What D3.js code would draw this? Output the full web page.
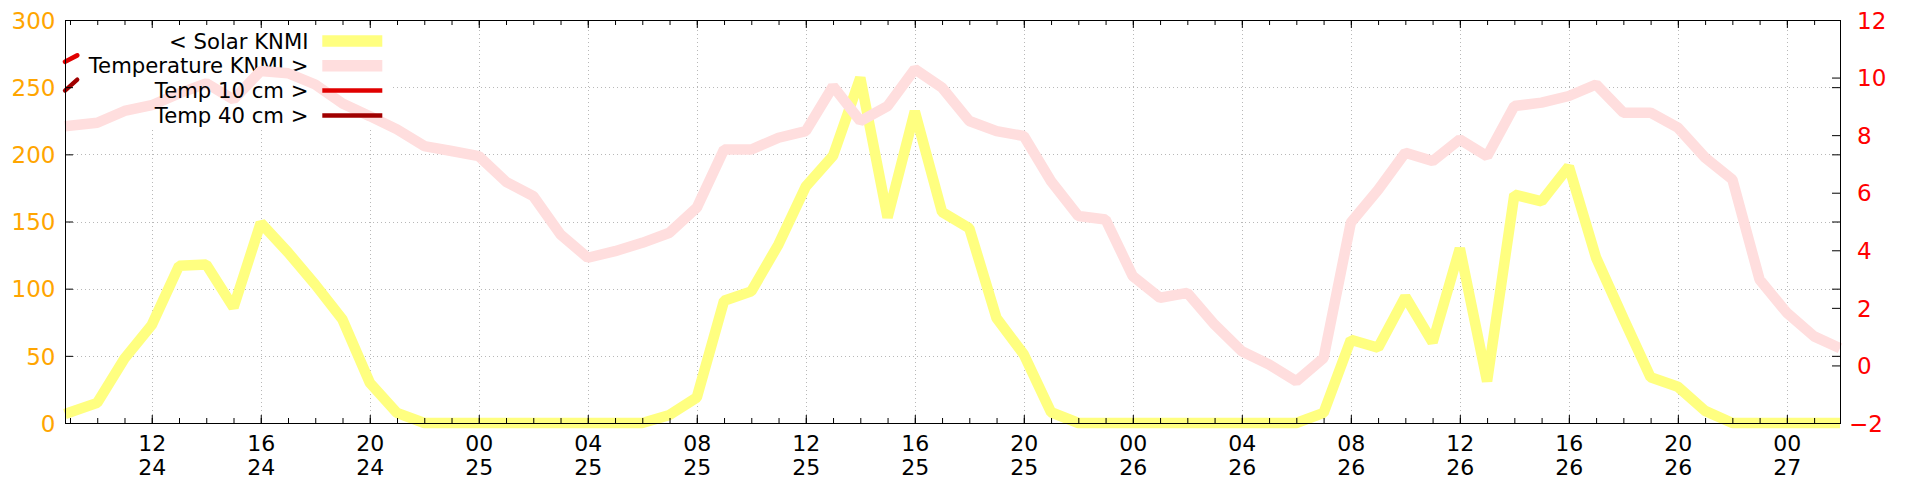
<!DOCTYPE html>
<html>
<head>
<meta charset="utf-8">
<script src="https://cdn.jsdelivr.net/npm/d3@7"></script>
<style>
  html, body { margin: 0; padding: 0; background: #fff; }
  svg { display: block; }
  text { font-family: "DejaVu Sans", sans-serif; }
</style>
</head>
<body>
<svg id="chart" width="1920" height="480"></svg>
<script>
// ---------- data ----------
const times = [
  "24 08:49","24 10:00","24 11:00","24 12:00","24 13:00","24 14:00","24 15:00","24 16:00",
  "24 17:00","24 18:00","24 19:00","24 20:00","24 21:00","24 22:00","24 23:00",
  "25 00:00","25 01:00","25 02:00","25 03:00","25 04:00","25 05:00","25 06:00","25 07:00",
  "25 08:00","25 09:00","25 10:00","25 11:00","25 12:00","25 13:00","25 14:00","25 15:00",
  "25 16:00","25 17:00","25 18:00","25 19:00","25 20:00","25 21:00","25 22:00","25 23:00",
  "26 00:00","26 01:00","26 02:00","26 03:00","26 04:00","26 05:00","26 06:00","26 07:00",
  "26 08:00","26 09:00","26 10:00","26 11:00","26 12:00","26 13:00","26 14:00","26 15:00",
  "26 16:00","26 17:00","26 18:00","26 19:00","26 20:00","26 21:00","26 22:00","26 23:00",
  "27 00:00","27 01:00","27 01:57"
];
const solarKNMI = [
  6.7, 15, 48, 73, 117, 118, 86, 149, 127, 103, 77, 30, 7.5, 0, 0,
  0, 0, 0, 0, 0, 0, 0, 6, 19, 91, 98, 133, 176, 199, 257, 153, 232, 157, 145, 78, 51, 8, 0, 0,
  0, 0, 0, 0, 0, 0, 0, 7.5, 62, 56, 94, 60, 130, 31, 170, 165, 191, 123, 78, 34, 27, 9, 0, 0,
  0, 0, 0
];
const temperatureKNMI = [
  8.31, 8.43, 8.84, 9.04, 9.45, 9.8, 9.24, 10.23, 10.15, 9.76, 9.1, 8.66, 8.2, 7.62, 7.45,
  7.27, 6.38, 5.88, 4.55, 3.74, 3.97, 4.26, 4.61, 5.48, 7.5, 7.5, 7.91, 8.14, 9.7, 8.49, 9.01,
  10.29, 9.65, 8.49, 8.14, 7.97, 6.40, 5.19, 5.07,
  3.10, 2.35, 2.52, 1.42, 0.49, 0.03, -0.55, 0.26, 4.96, 6.1, 7.39, 7.10, 7.85, 7.27, 9.01, 9.13,
  9.36, 9.76, 8.78, 8.78, 8.26, 7.22, 6.46, 2.98,
  1.83, 1.01, 0.6
];
const temp10Times = ["24 08:49", "24 09:16"];
const temp10cm = [10.55, 10.77];
const temp40Times = ["24 08:49", "24 09:16"];
const temp40cm = [9.55, 9.93];

const leftTicks = [0, 50, 100, 150, 200, 250, 300];
const rightTicks = [-2, 0, 2, 4, 6, 8, 10, 12];
const legendLabels = ["< Solar KNMI", "Temperature KNMI >", "Temp 10 cm >", "Temp 40 cm >"];
const seriesColors = ["#ffff80", "#ffdede", "#e00000", "#a00000"];

// ---------- setup ----------
const parse = d3.utcParse("%d %H:%M");
const svg = d3.select("#chart");
const L = 65, R = 1840, T = 20, B = 423;

const allTimes = times.map(parse);
const x = d3.scaleUtc().domain(d3.extent(allTimes)).range([L, R]);
const yL = d3.scaleLinear().domain([0, 300]).range([B, T]);
const yR = d3.scaleLinear().domain([-2, 12]).range([B, T]);

const solarData = times.map((t, i) => ({ t: parse(t), v: solarKNMI[i] }));
const tempData = times.map((t, i) => ({ t: parse(t), v: temperatureKNMI[i] }));
const t10Data = temp10Times.map((t, i) => ({ t: parse(t), v: temp10cm[i] }));
const t40Data = temp40Times.map((t, i) => ({ t: parse(t), v: temp40cm[i] }));

// ---------- grid ----------
const majorX = x.ticks(d3.utcHour.every(4));
const grid = svg.append("g").attr("stroke", "#b8b8b8").attr("stroke-width", 1)
  .attr("stroke-dasharray", "1,3").attr("fill", "none");
grid.selectAll("line.v").data(majorX).join("line")
  .attr("x1", d => Math.round(x(d)) + 0.5).attr("x2", d => Math.round(x(d)) + 0.5)
  .attr("y1", B).attr("y2", T);
grid.selectAll("line.h").data(leftTicks.filter(d => d > 0 && d < 300)).join("line")
  .attr("x1", L).attr("x2", R)
  .attr("y1", d => Math.round(yL(d)) + 0.5).attr("y2", d => Math.round(yL(d)) + 0.5);

// ---------- legend box (opaque) ----------
svg.append("rect").attr("x", L + 1).attr("y", T + 1).attr("width", 327).attr("height", 106)
  .attr("fill", "#fff");

const legendRowsY = [41, 65.8, 90.5, 115.5];
const legendWidths = [11.3, 11.5, 4.7, 4.3];
function legendEntry(i) {
  const g = svg.append("g");
  g.append("text").attr("x", 308.5).attr("y", legendRowsY[i]).attr("dy", "0.36em")
    .attr("text-anchor", "end").attr("font-size", "21.2px").attr("fill", "#000")
    .text(legendLabels[i]);
  g.append("line").attr("x1", 322.3).attr("x2", 382.3)
    .attr("y1", legendRowsY[i]).attr("y2", legendRowsY[i])
    .attr("stroke", seriesColors[i]).attr("stroke-width", legendWidths[i]);
}

const lineL = d3.line().x(d => x(d.t)).y(d => yL(d.v));
const lineR = d3.line().x(d => x(d.t)).y(d => yR(d.v));

legendEntry(0);
svg.append("path").datum(solarData).attr("d", lineL).attr("fill", "none")
  .attr("stroke", seriesColors[0]).attr("stroke-width", 10.5).attr("stroke-linejoin", "bevel");
legendEntry(1);
svg.append("path").datum(tempData).attr("d", lineR).attr("fill", "none")
  .attr("stroke", seriesColors[1]).attr("stroke-width", 10.5).attr("stroke-linejoin", "bevel");
legendEntry(2);
svg.append("path").datum(t10Data).attr("d", lineR).attr("fill", "none")
  .attr("stroke", seriesColors[2]).attr("stroke-width", 4.7).attr("stroke-linecap", "round");
legendEntry(3);
svg.append("path").datum(t40Data).attr("d", lineR).attr("fill", "none")
  .attr("stroke", seriesColors[3]).attr("stroke-width", 4.3).attr("stroke-linecap", "round");

// ---------- axes ----------
function clean(g) { g.select(".domain").remove(); g.selectAll(".tick line").attr("stroke", "#000"); }

// bottom minor + major
svg.append("g").attr("transform", `translate(0,${B})`)
  .call(d3.axisBottom(x).ticks(d3.utcHour.every(1)).tickSize(-5).tickFormat(""))
  .call(clean);
const bottom = svg.append("g").attr("transform", `translate(0,${B})`)
  .call(d3.axisBottom(x).ticks(d3.utcHour.every(4)).tickSize(-8).tickFormat(d3.utcFormat("%H")))
  .call(clean);
bottom.selectAll(".tick text").each(function(d) {
  const t = d3.select(this);
  t.text(null).attr("y", 0).attr("dy", null).attr("fill", "#000")
    .attr("font-size", "22px").attr("font-family", "DejaVu Sans");
  t.append("tspan").attr("x", 0).attr("y", 27.5).text(d3.utcFormat("%H")(d));
  t.append("tspan").attr("x", 0).attr("y", 51.5).text(d3.utcFormat("%d")(d));
});
// top mirror
svg.append("g").attr("transform", `translate(0,${T})`)
  .call(d3.axisTop(x).ticks(d3.utcHour.every(1)).tickSize(-5).tickFormat(""))
  .call(clean);
svg.append("g").attr("transform", `translate(0,${T})`)
  .call(d3.axisTop(x).ticks(d3.utcHour.every(4)).tickSize(-8).tickFormat(""))
  .call(clean);

// left axis
const left = svg.append("g").attr("transform", `translate(${L},0)`)
  .call(d3.axisLeft(yL).tickValues(leftTicks).tickSize(-8).tickPadding(9.5).tickFormat(d3.format("d")))
  .call(clean);
left.selectAll(".tick text").attr("fill", "#ffa500").attr("font-size", "23px")
  .attr("font-family", "DejaVu Sans").attr("dy", "0.36em");

// right axis: own ticks + mirrored left ticks
svg.append("g").attr("transform", `translate(${R},0)`)
  .call(d3.axisRight(yL).tickValues(leftTicks).tickSize(-8).tickFormat(""))
  .call(clean);
const right = svg.append("g").attr("transform", `translate(${R},0)`)
  .call(d3.axisRight(yR).tickValues(rightTicks).tickSize(-8).tickPadding(17).tickFormat(d3.format("d")))
  .call(clean);
right.selectAll(".tick text").attr("fill", "#ff0000").attr("font-size", "23px")
  .attr("font-family", "DejaVu Sans").attr("dy", "0.36em")
  .attr("dx", d => d < 0 ? -8 : 0);

// border
svg.append("rect").attr("x", L + 0.5).attr("y", T + 0.5).attr("width", R - L).attr("height", B - T)
  .attr("fill", "none").attr("stroke", "#000").attr("stroke-width", 1);
</script>
</body>
</html>
